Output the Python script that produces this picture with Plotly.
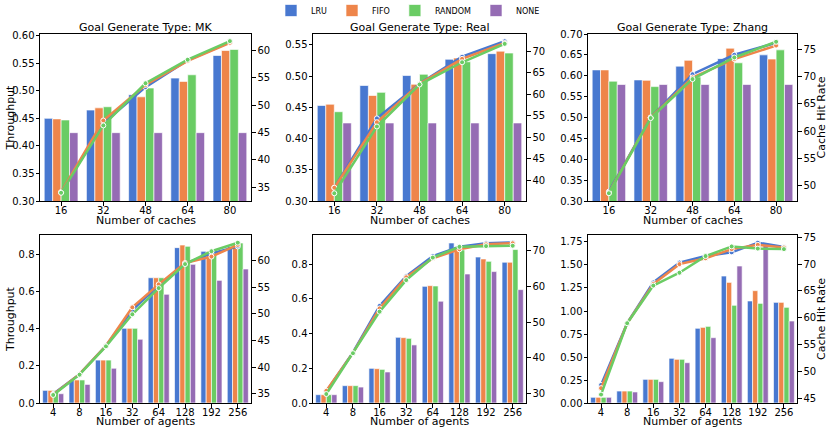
import plotly.graph_objects as go

W, H = 831, 432
FONT = "DejaVu Sans"

POLICIES = ["LRU", "FIFO", "RANDOM", "NONE"]
COLORS = ["#4878d0", "#ee854a", "#6acc64", "#956cb4"]
GOAL_TYPES = ["MK", "Real", "Zhang"]
CACHES = ["16", "32", "48", "64", "80"]
AGENTS = ["4", "8", "16", "32", "64", "128", "192", "256"]

# throughput bars, one row per policy (LRU, FIFO, RANDOM, NONE)
MK_CACHE_TP = [
    [0.450, 0.465, 0.493, 0.523, 0.564],
    [0.449, 0.469, 0.489, 0.517, 0.573],
    [0.447, 0.471, 0.505, 0.529, 0.575],
    [0.424, 0.424, 0.424, 0.424, 0.424],
]
REAL_CACHE_TP = [
    [0.453, 0.485, 0.501, 0.527, 0.536],
    [0.455, 0.469, 0.487, 0.529, 0.540],
    [0.443, 0.474, 0.503, 0.523, 0.537],
    [0.425, 0.425, 0.425, 0.425, 0.425],
]
ZHANG_CACHE_TP = [
    [0.614, 0.590, 0.623, 0.641, 0.650],
    [0.614, 0.589, 0.637, 0.666, 0.640],
    [0.587, 0.574, 0.597, 0.631, 0.662],
    [0.579, 0.579, 0.579, 0.579, 0.579],
]
MK_AGENT_TP = [
    [0.068, 0.122, 0.231, 0.402, 0.674, 0.836, 0.816, 0.841],
    [0.068, 0.124, 0.231, 0.402, 0.674, 0.850, 0.814, 0.852],
    [0.067, 0.124, 0.231, 0.402, 0.674, 0.843, 0.814, 0.861],
    [0.050, 0.100, 0.187, 0.343, 0.585, 0.746, 0.660, 0.721],
]
REAL_AGENT_TP = [
    [0.048, 0.100, 0.200, 0.379, 0.673, 0.923, 0.842, 0.812],
    [0.048, 0.100, 0.198, 0.377, 0.677, 0.900, 0.831, 0.812],
    [0.048, 0.100, 0.194, 0.373, 0.675, 0.883, 0.817, 0.885],
    [0.048, 0.092, 0.179, 0.335, 0.587, 0.744, 0.758, 0.654],
]
ZHANG_AGENT_TP = [
    [0.062, 0.130, 0.257, 0.486, 0.812, 1.380, 1.109, 1.094],
    [0.062, 0.130, 0.257, 0.475, 0.822, 1.311, 1.221, 1.094],
    [0.062, 0.130, 0.257, 0.475, 0.833, 1.062, 1.083, 1.040],
    [0.062, 0.120, 0.232, 0.438, 0.710, 1.489, 1.740, 0.891],
]

# cache hit rate lines (LRU, FIFO, RANDOM)
MK_CACHE_HIT = [
    [34.1, 46.7, 53.3, 58.2, 61.5],
    [34.1, 47.2, 53.7, 58.1, 61.4],
    [34.0, 46.3, 54.0, 58.3, 61.7],
]
REAL_CACHE_HIT = [
    [38.2, 54.4, 62.5, 68.8, 72.4],
    [38.2, 53.5, 62.5, 68.3, 72.0],
    [36.9, 52.5, 62.3, 67.5, 71.8],
]
ZHANG_CACHE_HIT = [
    [48.8, 62.5, 70.5, 74.1, 76.3],
    [48.6, 62.5, 69.9, 73.3, 75.8],
    [48.5, 62.4, 69.6, 73.6, 76.5],
]
MK_AGENT_HIT = [
    [35.0, 38.7, 44.0, 50.7, 55.3, 59.4, 61.3, 62.6],
    [34.9, 38.7, 44.0, 51.2, 55.5, 59.5, 60.7, 62.9],
    [34.8, 38.6, 43.9, 49.9, 54.8, 59.3, 61.7, 63.3],
]
REAL_AGENT_HIT = [
    [30.6, 41.5, 54.5, 62.8, 68.4, 71.0, 72.0, 72.2],
    [30.8, 41.4, 53.8, 62.5, 67.8, 70.3, 71.7, 72.0],
    [29.9, 41.3, 52.9, 61.7, 68.0, 71.0, 71.2, 71.3],
]
ZHANG_AGENT_HIT = [
    [47.5, 59.0, 66.6, 70.3, 71.5, 72.2, 74.0, 73.2],
    [46.9, 59.0, 66.3, 70.0, 71.1, 72.8, 73.6, 73.1],
    [45.7, 59.0, 66.0, 68.4, 71.5, 73.3, 72.9, 72.8],
]

# panel frames in pixels: (left, right) and (top, bottom)
COL_PX = [(40, 251), (313, 526), (588, 797)]
ROW_PX = [(34, 201), (235, 403)]

PANELS = [
    dict(cats=CACHES, tp=MK_CACHE_TP, hit=MK_CACHE_HIT,
         yr=[0.30, 0.603], yd=0.05, yt0=0.30, yf=".2f", y2r=[32.5, 63.0], y2d=5, y2t0=35),
    dict(cats=CACHES, tp=REAL_CACHE_TP, hit=REAL_CACHE_HIT,
         yr=[0.30, 0.5675], yd=0.05, yt0=0.30, yf=".2f", y2r=[35.1, 74.1], y2d=5, y2t0=40),
    dict(cats=CACHES, tp=ZHANG_CACHE_TP, hit=ZHANG_CACHE_HIT,
         yr=[0.30, 0.70], yd=0.05, yt0=0.30, yf=".2f", y2r=[47.06, 77.94], y2d=5, y2t0=50),
    dict(cats=AGENTS, tp=MK_AGENT_TP, hit=MK_AGENT_HIT,
         yr=[0, 0.904], yd=0.2, yt0=0, yf=".1f", y2r=[33.3, 64.74], y2d=5, y2t0=35),
    dict(cats=AGENTS, tp=REAL_AGENT_TP, hit=REAL_AGENT_HIT,
         yr=[0, 0.969], yd=0.2, yt0=0, yf=".1f", y2r=[27.4, 74.3], y2d=10, y2t0=30),
    dict(cats=AGENTS, tp=ZHANG_AGENT_TP, hit=ZHANG_AGENT_HIT,
         yr=[0, 1.826], yd=0.25, yt0=0, yf=".2f", y2r=[44.13, 75.43], y2d=5, y2t0=45),
]

tick_font = dict(family=FONT, size=10, color="black")
axis_common = dict(showline=True, linecolor="black", linewidth=1, ticks="outside",
                   ticklen=3.5, tickwidth=0.8, tickcolor="black", showgrid=False,
                   zeroline=False, tickfont=tick_font, automargin=False)

fig = go.Figure()
layout = {}

for i, p in enumerate(PANELS):
    n = i + 1
    xa, ya, ya2 = f"x{n}", f"y{n}", f"y{n + 6}"
    for k, pol in enumerate(POLICIES):
        fig.add_trace(go.Bar(
            x=p["cats"], y=p["tp"][k], name=pol, xaxis=xa, yaxis=ya,
            marker=dict(color=COLORS[k], line=dict(color="rgba(255,255,255,0.8)", width=0.8)),
            offsetgroup=pol, showlegend=(i == 0),
        ))
    for k, pol in enumerate(POLICIES[:3]):
        fig.add_trace(go.Scatter(
            x=p["cats"], y=p["hit"][k], name=pol, xaxis=xa, yaxis=ya2,
            mode="lines+markers", line=dict(color=COLORS[k], width=2.5),
            marker=dict(symbol="circle", size=5, color=COLORS[k],
                        line=dict(color="white", width=1)),
            showlegend=False,
        ))

    l, r = COL_PX[i % 3]
    t, b = ROW_PX[i // 3]
    layout[f"xaxis{n}"] = dict(axis_common, domain=[l / W, r / W], anchor=ya,
                               type="category", mirror=True, ticklabelstandoff=-4,
                               range=[-0.5, len(p["cats"]) - 0.5])
    layout[f"yaxis{n}"] = dict(axis_common, domain=[1 - b / H, 1 - t / H], anchor=xa,
                               range=p["yr"], dtick=p["yd"], tick0=p["yt0"],
                               tickformat=p["yf"], ticklabelstandoff=-1)
    layout[f"yaxis{n + 6}"] = dict(axis_common, overlaying=ya, anchor=xa, side="right",
                                   range=p["y2r"], dtick=p["y2d"], tick0=p["y2t0"])

annotations = []
lbl_font = dict(family=FONT, size=11, color="black")
for c, (l, r) in enumerate(COL_PX):
    cx = (l + r) / 2 / W
    annotations.append(dict(text=f"Goal Generate Type: {GOAL_TYPES[c]}", x=cx, y=1 - 27.5 / H,
                            xref="paper", yref="paper", showarrow=False, font=lbl_font,
                            xanchor="center", yanchor="middle"))
    annotations.append(dict(text="Number of caches", x=cx, y=1 - 220 / H,
                            xref="paper", yref="paper", showarrow=False, font=lbl_font,
                            xanchor="center", yanchor="middle"))
    annotations.append(dict(text="Number of agents", x=cx, y=1 - 421 / H,
                            xref="paper", yref="paper", showarrow=False, font=lbl_font,
                            xanchor="center", yanchor="middle"))
for t, b in ROW_PX:
    cy = 1 - (t + b) / 2 / H
    annotations.append(dict(text="Throughput", x=10 / W, y=cy, textangle=-90,
                            xref="paper", yref="paper", showarrow=False, font=lbl_font,
                            xanchor="center", yanchor="middle"))
    annotations.append(dict(text="Cache Hit Rate", x=821 / W, y=cy, textangle=-90,
                            xref="paper", yref="paper", showarrow=False, font=lbl_font,
                            xanchor="center", yanchor="middle"))

fig.update_layout(
    **layout,
    annotations=annotations,
    width=W, height=H,
    margin=dict(l=0, r=0, t=0, b=0, autoexpand=False),
    barmode="group", bargap=0.2, bargroupgap=0,
    plot_bgcolor="white", paper_bgcolor="white",
    font=dict(family=FONT, color="black"),
    legend=dict(orientation="h", x=408 / W, xanchor="center", y=1 + 4 / H, yanchor="top",
                borderwidth=0, bgcolor="rgba(0,0,0,0)",
                traceorder="normal", valign="middle",
                font=dict(family=FONT, size=8), itemwidth=30, tracegroupgap=0),
)

fig.write_html("out.html", config={"displayModeBar": False},
               post_script="document.body.style.margin = '0px';")
